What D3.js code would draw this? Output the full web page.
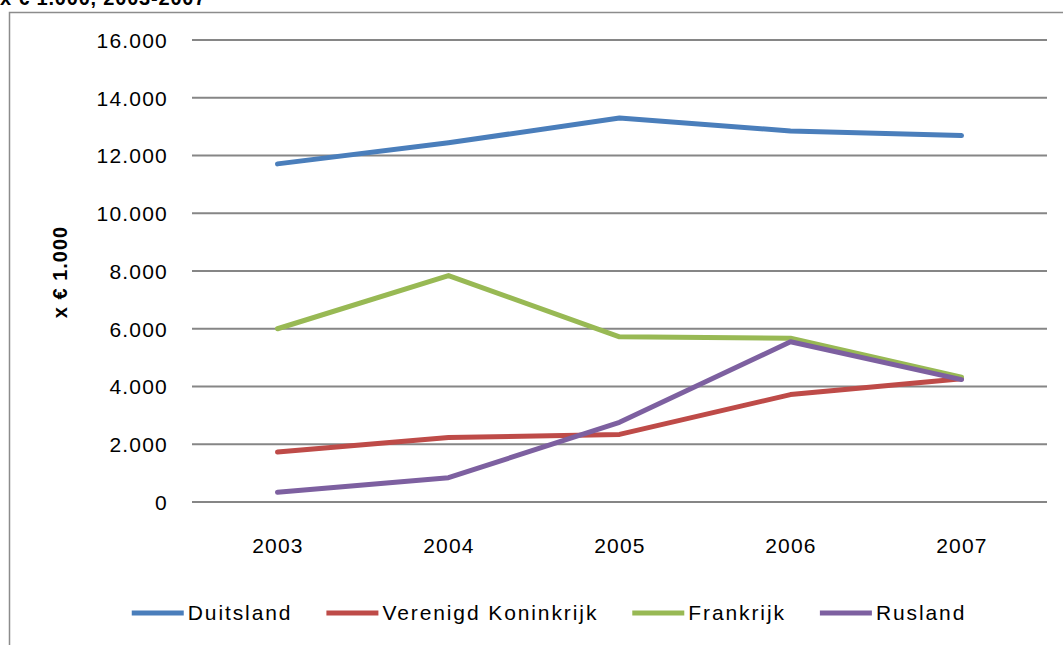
<!DOCTYPE html>
<html>
  <head>
    <meta charset="utf-8">
    <title>x € 1.000, 2003-2007</title>
    <style>
      body {
        margin: 0;
        background-color: white;
      }
      text {
        font-family: "Liberation Sans", Arial, sans-serif;
        fill: black;
      }
    </style>
  </head>
  <body>
    <div id="chart"></div>

    <script src="https://d3js.org/d3.v7.min.js"></script>
    <script>
    var width = 1063;
    var height = 645;

    // data, x € 1.000
    var years = ["2003", "2004", "2005", "2006", "2007"];
    var seriesNames = ["Duitsland", "Verenigd Koninkrijk", "Frankrijk", "Rusland"];
    var seriesColors = ["#4a7ebb", "#be4b48", "#98b954", "#7d60a0"];
    var duitsland = [11710, 12440, 13300, 12850, 12690];
    var verenigdKoninkrijk = [1730, 2230, 2340, 3720, 4270];
    var frankrijk = [6000, 7840, 5720, 5670, 4320];
    var rusland = [340, 840, 2760, 5550, 4240];
    var yTicks = [0, 2000, 4000, 6000, 8000, 10000, 12000, 14000, 16000];

    var series = [duitsland, verenigdKoninkrijk, frankrijk, rusland];

    var plot = {left: 192, right: 1047, top: 40, bottom: 502};

    var nl = d3.formatLocale({decimal: ",", thousands: ".", grouping: [3], currency: ["€", ""]});
    var fmt = nl.format(",d");

    var svg = d3.select("#chart").append("svg")
      .attr("width", width)
      .attr("height", height);

    // title, cut off by the top edge as in the picture
    svg.append("text")
      .attr("x", 0)
      .attr("y", 5)
      .attr("font-size", 20)
      .attr("font-weight", "bold")
      .attr("letter-spacing", 0.8)
      .text("x € 1.000, 2003-2007");

    // chart area border (runs off right and bottom)
    svg.append("rect")
      .attr("x", 9.5)
      .attr("y", 12.5)
      .attr("width", 1100)
      .attr("height", 700)
      .attr("fill", "none")
      .attr("stroke", "#8c8c8c")
      .attr("stroke-width", 1.5);

    var x = d3.scalePoint()
      .domain(years)
      .range([plot.left, plot.right])
      .padding(0.5);

    var y = d3.scaleLinear()
      .domain([0, 16000])
      .range([plot.bottom, plot.top]);

    // gridlines
    svg.append("g")
      .selectAll("line")
      .data(yTicks)
      .enter()
      .append("line")
      .attr("x1", plot.left)
      .attr("x2", plot.right)
      .attr("y1", function(d) { return y(d); })
      .attr("y2", function(d) { return y(d); })
      .attr("stroke", "#868686")
      .attr("stroke-width", 1.8);

    var yAxis = svg.append("g")
      .attr("transform", "translate(" + plot.left + ",0)")
      .call(d3.axisLeft(y).tickValues(yTicks).tickFormat(fmt).tickSize(0).tickPadding(24));
    yAxis.select(".domain").remove();
    yAxis.selectAll("text")
      .attr("font-size", 21)
      .attr("letter-spacing", 1.2)
      .attr("dy", "0.35em")
      .style("font-family", "'Liberation Sans', Arial, sans-serif");

    var xAxis = svg.append("g")
      .attr("transform", "translate(0," + plot.bottom + ")")
      .call(d3.axisBottom(x).tickSize(0).tickPadding(36));
    xAxis.select(".domain").remove();
    xAxis.selectAll("text")
      .attr("font-size", 21)
      .attr("letter-spacing", 1.2)
      .style("font-family", "'Liberation Sans', Arial, sans-serif");

    // y axis title
    svg.append("text")
      .attr("transform", "translate(67,272) rotate(-90)")
      .attr("text-anchor", "middle")
      .attr("font-size", 20)
      .attr("font-weight", "bold")
      .attr("letter-spacing", 1)
      .text("x € 1.000");

    var line = d3.line()
      .x(function(d, i) { return x(years[i]); })
      .y(function(d) { return y(d); });

    svg.append("g")
      .selectAll("path")
      .data(series)
      .enter()
      .append("path")
      .attr("d", line)
      .attr("fill", "none")
      .attr("stroke", function(d, i) { return seriesColors[i]; })
      .attr("stroke-width", 5)
      .attr("stroke-linejoin", "round")
      .attr("stroke-linecap", "round");

    // legend
    var legend = svg.append("g");
    var cx = 0;
    seriesNames.forEach(function(name, i) {
      var item = legend.append("g").attr("transform", "translate(" + cx + ",0)");
      item.append("line")
        .attr("x1", 0)
        .attr("x2", 52)
        .attr("y1", 0)
        .attr("y2", 0)
        .attr("stroke", seriesColors[i])
        .attr("stroke-width", 5);
      var t = item.append("text")
        .attr("x", 56)
        .attr("y", 0)
        .attr("dy", "0.35em")
        .attr("font-size", 21)
        .attr("letter-spacing", 1.9)
        .text(name);
      cx += 56 + t.node().getComputedTextLength() + 34;
    });
    var legendWidth = cx - 34;
    legend.attr("transform", "translate(" + (549 - legendWidth / 2) + ",613)");
    </script>
  </body>
</html>
